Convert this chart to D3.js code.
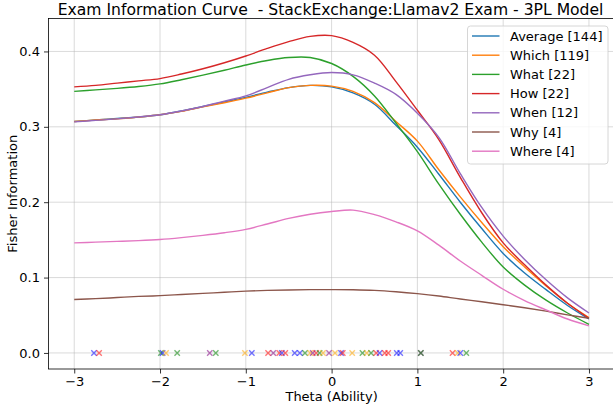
<!DOCTYPE html>
<html>
<head>
<meta charset="utf-8">
<script src="https://cdn.jsdelivr.net/npm/d3@7/dist/d3.min.js"></script>
<style>
  html, body { margin: 0; padding: 0; background: #fff; }
  svg { display: block; font-family: "DejaVu Sans", sans-serif; }
  .title { white-space: pre; }
</style>
</head>
<body>
<svg id="chart" width="613" height="409"></svg>
<script>
// ---- data ----
const thetaGrid = [-3, -2.75, -2.5, -2.25, -2, -1.75, -1.5, -1.25, -1, -0.75, -0.5, -0.25,
  0, 0.25, 0.5, 0.75, 1, 1.25, 1.5, 1.75, 2, 2.25, 2.5, 2.75, 3];

const seriesNames = ["Average [144]", "Which [119]", "What [22]", "How [22]", "When [12]", "Why [4]", "Where [4]"];
const seriesColors = ["#1f77b4", "#ff7f0e", "#2ca02c", "#d62728", "#9467bd", "#8c564b", "#e377c2"];

const averageInfo = [0.307, 0.309, 0.311, 0.313, 0.316, 0.321, 0.327, 0.333, 0.339, 0.346, 0.352, 0.355,
  0.353, 0.345, 0.330, 0.302, 0.273, 0.237, 0.200, 0.165, 0.132, 0.106, 0.084, 0.063, 0.045];
const whichInfo = [0.307, 0.309, 0.3105, 0.313, 0.316, 0.3205, 0.3265, 0.332, 0.338, 0.345, 0.352, 0.355,
  0.354, 0.347, 0.332, 0.307, 0.281, 0.243, 0.207, 0.173, 0.141, 0.114, 0.089, 0.066, 0.047];
const whatInfo = [0.347, 0.349, 0.351, 0.3535, 0.357, 0.3625, 0.3685, 0.375, 0.382, 0.388, 0.392, 0.392,
  0.384, 0.367, 0.341, 0.305, 0.267, 0.224, 0.184, 0.147, 0.114, 0.090, 0.070, 0.053, 0.038];
const howInfo = [0.353, 0.355, 0.358, 0.361, 0.364, 0.370, 0.377, 0.385, 0.394, 0.404, 0.413, 0.420,
  0.421, 0.412, 0.395, 0.360, 0.322, 0.283, 0.233, 0.186, 0.146, 0.117, 0.090, 0.066, 0.046];
const whenInfo = [0.3065, 0.3085, 0.3105, 0.313, 0.316, 0.321, 0.327, 0.334, 0.341, 0.352, 0.363, 0.369,
  0.372, 0.369, 0.358, 0.343, 0.318, 0.286, 0.238, 0.193, 0.155, 0.124, 0.097, 0.073, 0.053];
const whyInfo = [0.071, 0.072, 0.0735, 0.075, 0.076, 0.0775, 0.079, 0.0805, 0.082, 0.083, 0.0836, 0.084,
  0.084, 0.0838, 0.083, 0.0812, 0.0787, 0.0755, 0.0715, 0.068, 0.064, 0.060, 0.0555, 0.0505, 0.046];
const whereInfo = [0.146, 0.147, 0.148, 0.149, 0.1505, 0.153, 0.156, 0.1595, 0.164, 0.171, 0.1785, 0.184,
  0.1876, 0.1895, 0.1835, 0.174, 0.162, 0.143, 0.122, 0.103, 0.0845, 0.0695, 0.057, 0.045, 0.036];

const seriesValues = [averageInfo, whichInfo, whatInfo, howInfo, whenInfo, whyInfo, whereInfo];

// item difficulty markers at y = 0
const markerTheta = [-2.77, -2.71, -1.99, -1.97, -1.93, -1.80, -1.42, -1.35, -1.01, -0.93,
  -0.74, -0.68, -0.61, -0.58, -0.54, -0.43, -0.37, -0.31, -0.25, -0.22, -0.18, -0.14, -0.10,
  -0.03, 0.04, 0.11, 0.13, 0.24, 0.36, 0.41, 0.46, 0.52, 0.56, 0.62, 0.66, 0.76, 0.80,
  1.04, 1.04, 1.41, 1.47, 1.50, 1.57];
const markerColor = ["blue", "red", "green", "blue", "orange", "green", "purple", "green", "orange", "blue",
  "red", "purple", "red", "blue", "red", "blue", "blue", "green", "orange", "purple", "red", "green", "orange",
  "purple", "orange", "blue", "red", "orange", "green", "orange", "green", "red", "blue", "red", "red", "blue", "blue",
  "purple", "green", "red", "orange", "blue", "green"];

const xTicks = [-3, -2, -1, 0, 1, 2, 3];
const yTicks = [0.0, 0.1, 0.2, 0.3, 0.4];

const titleText = "Exam Information Curve  - StackExchange:Llamav2 Exam - 3PL Model";
const xLabel = "Theta (Ability)";
const yLabel = "Fisher Information";

// ---- layout ----
const svg = d3.select("#chart");
const L = 48.5, R = 614.7, T = 18.5, B = 369;
const x = d3.scaleLinear().domain([-3.3, 3.3]).range([L, R]);
const y = d3.scaleLinear().domain([-0.0213, 0.4437]).range([B, T]);

// grid
const grid = svg.append("g");
grid.selectAll("line.gx").data(xTicks).join("line")
  .attr("x1", d => x(d)).attr("x2", d => x(d)).attr("y1", T).attr("y2", B)
  .attr("stroke", "#b0b0b0").attr("stroke-opacity", 0.6).attr("stroke-width", 0.8);
grid.selectAll("line.gy").data(yTicks).join("line")
  .attr("y1", d => y(d)).attr("y2", d => y(d)).attr("x1", L).attr("x2", R)
  .attr("stroke", "#b0b0b0").attr("stroke-opacity", 0.6).attr("stroke-width", 0.8);

// curves
const line = d3.line().x((d, i) => x(thetaGrid[i])).y(d => y(d)).curve(d3.curveCatmullRom.alpha(0.5));
seriesValues.forEach((vals, k) => {
  svg.append("path").attr("d", line(vals)).attr("fill", "none")
    .attr("stroke", seriesColors[k]).attr("stroke-width", 1.4);
});

// markers
const ms = 2.7;
const mk = svg.append("g");
markerTheta.forEach((t, i) => {
  const cx = x(t), cy = y(0);
  mk.append("path")
    .attr("d", `M${cx - ms},${cy - ms}L${cx + ms},${cy + ms}M${cx - ms},${cy + ms}L${cx + ms},${cy - ms}`)
    .attr("stroke", markerColor[i]).attr("stroke-opacity", 0.55).attr("stroke-width", 1.4).attr("fill", "none");
});

// axes
const xAxis = d3.axisBottom(x).tickValues(xTicks).tickSize(4.5).tickPadding(3)
  .tickFormat(d => d3.format("d")(d).replace("-", "\u2212"));
const yAxis = d3.axisLeft(y).tickValues(yTicks).tickSize(4.5).tickPadding(4)
  .tickFormat(d3.format(".1f"));
const gx = svg.append("g").attr("transform", `translate(0,${B})`).call(xAxis);
const gy = svg.append("g").attr("transform", `translate(${L},0)`).call(yAxis);
[gx, gy].forEach(g => {
  g.select(".domain").remove();
  g.selectAll("text").attr("font-family", "DejaVu Sans").attr("font-size", 13).attr("fill", "#000");
  g.selectAll("line").attr("stroke", "#000").attr("stroke-width", 0.8);
});

// spines
svg.append("rect").attr("x", L).attr("y", T).attr("width", R - L).attr("height", B - T)
  .attr("fill", "none").attr("stroke", "#000").attr("stroke-width", 0.8);

// labels
svg.append("text").attr("class", "title").attr("x", (L + R) / 2 - 1).attr("y", 15).attr("text-anchor", "middle")
  .attr("font-size", 15.6).text(titleText);
svg.append("text").attr("x", (L + R) / 2).attr("y", 401).attr("text-anchor", "middle")
  .attr("font-size", 13).text(xLabel);
svg.append("text").attr("transform", `translate(17,${(T + B) / 2}) rotate(-90)`).attr("text-anchor", "middle")
  .attr("font-size", 13).text(yLabel);

// legend
const lg = svg.append("g");
lg.append("rect").attr("x", 467.5).attr("y", 26).attr("width", 140.5).attr("height", 138).attr("rx", 3)
  .attr("fill", "#fff").attr("fill-opacity", 0.8).attr("stroke", "#cccccc").attr("stroke-width", 0.8);
seriesNames.forEach((name, k) => {
  const yy = 36 + k * 19.2;
  lg.append("line").attr("x1", 472).attr("x2", 499.5).attr("y1", yy).attr("y2", yy)
    .attr("stroke", seriesColors[k]).attr("stroke-width", 1.4);
  lg.append("text").attr("x", 510).attr("y", yy + 4.6).attr("font-size", 13).text(name);
});
</script>
</body>
</html>
